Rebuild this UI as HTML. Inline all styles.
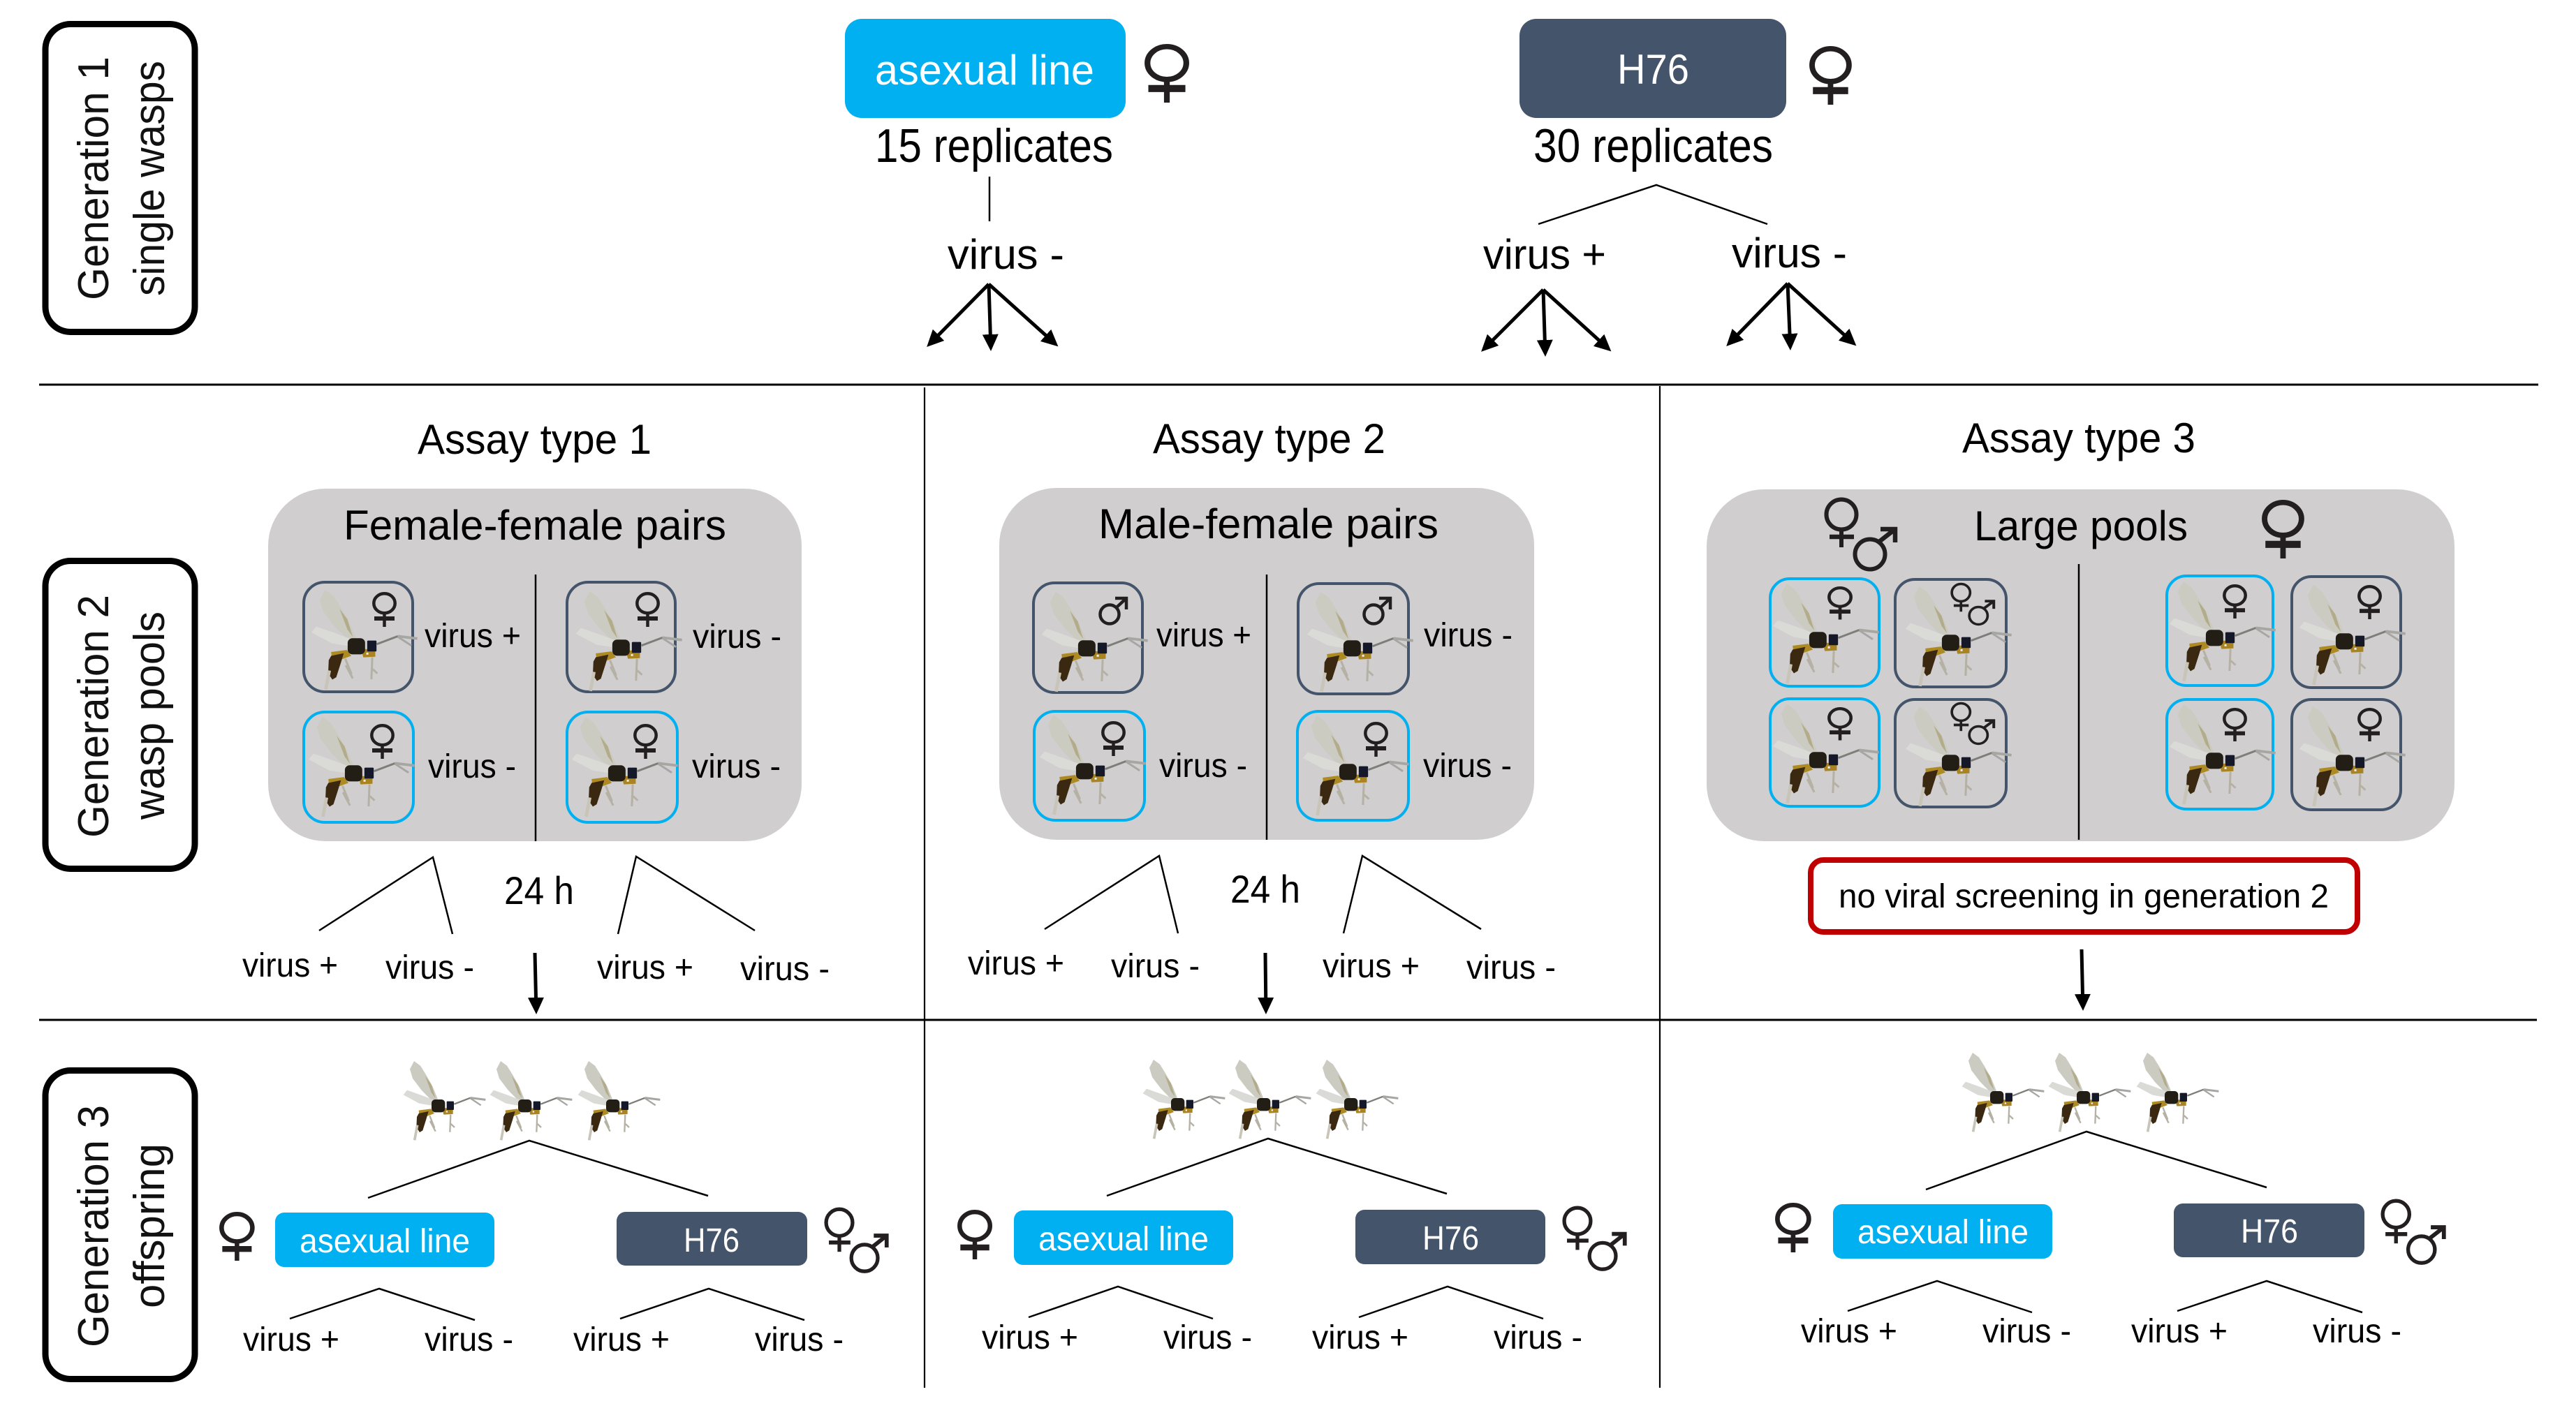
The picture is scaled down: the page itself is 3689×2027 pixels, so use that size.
<!DOCTYPE html>
<html><head><meta charset="utf-8"><style>
html,body{margin:0;padding:0;background:#fff}
svg{display:block}
text{font-family:"Liberation Sans",sans-serif;fill:#000}
.s{font-size:48px}.m{font-size:60px}.b{font-size:68px}.g{font-size:62px;fill:#111}.w{fill:#fff}
.l{stroke:#000;stroke-width:2.5;fill:none}
.a{stroke:#000;stroke-width:5;fill:none;marker-end:url(#ah)}
.cd{fill:none;stroke:#44546A;stroke-width:4}
.cb{fill:none;stroke:#00B0F0;stroke-width:4}
.y{fill:none;stroke:#231f20;stroke-width:4.5}
</style></head><body>
<svg xmlns="http://www.w3.org/2000/svg" width="3689" height="2027" viewBox="0 0 3689 2027">
<defs>
<marker id="ah" markerUnits="userSpaceOnUse" markerWidth="26" markerHeight="26" refX="10" refY="12" orient="auto"><path d="M0,0.5 L24,12 L0,23.5 Z" fill="#000"/></marker>
<g id="f"><ellipse class="y" cx="17.5" cy="16.25" rx="15.2" ry="14"/><path class="y" d="M17.5,30V50"/><path class="y" style="stroke-width:6" d="M3,38H32"/></g>
<g id="m"><circle class="y" cx="16" cy="25" r="13.5"/><path class="y" d="M26,15L40,2M24,2H40V18"/></g>
<g id="mf"><circle class="y" style="stroke-width:6" cx="25" cy="24" r="21.5"/><path class="y" style="stroke-width:6" d="M25,45V71"/><path class="y" style="stroke-width:6.5" d="M8,56H43"/><circle class="y" style="stroke-width:6" cx="66" cy="81" r="21.5"/><path class="y" style="stroke-width:6.5" d="M79,63L102,45M81,45H102V64"/></g>
<g id="wasp"><g transform="translate(-50,-60)">
<path d="M98,60L80,95L92,135L130,185L172,228L200,224L178,170L150,120L125,80Z" fill="#cbcbc2"/>
<path d="M146,125L172,195L190,220L172,160Z" fill="#b3ac8a"/>
<path d="M52,205L68,185L125,205L190,230L178,252L120,242Z" fill="#dadad6"/>
<path d="M118,272L170,265L185,285L150,298L120,290Z" fill="#ad8a22"/>
<path d="M110,300L118,285L160,276L150,310L135,358L122,366L108,345Z" fill="#3b2810"/>
<path d="M218,262L265,262L265,288L225,290Z" fill="#a98420"/>
<rect x="173" y="225" width="58" height="55" rx="16" fill="#221d15"/>
<rect x="238" y="233" width="31" height="37" rx="3" fill="#141828"/>
<rect x="235" y="274" width="7" height="7" fill="#eee"/>
<g fill="none" stroke-linejoin="round">
<path d="M112,335L100,400" stroke="#c8c4b8" stroke-width="11"/>
<path d="M165,295L185,345L168,320L190,362" stroke="#b5b1a5" stroke-width="7"/>
<path d="M255,290L252,365M256,330L272,345" stroke="#b5b1a5" stroke-width="7"/>
<path d="M270,245L340,218" stroke="#7d7d79" stroke-width="7"/>
<path d="M340,218L405,226" stroke="#a6a6a2" stroke-width="9"/>
<path d="M340,220L385,250" stroke="#a6a6a2" stroke-width="7"/>
</g></g></g>
</defs>

<!-- generation boxes -->
<g fill="none" stroke="#000" stroke-width="9">
<rect x="65" y="34.5" width="214" height="441" rx="36"/>
<rect x="65" y="803.5" width="214" height="441" rx="36"/>
<rect x="65" y="1533.5" width="214" height="442" rx="36"/>
</g>
<text class="g" transform="translate(155,430) rotate(-90)" textLength="349" lengthAdjust="spacingAndGlyphs">Generation 1</text>
<text class="g" transform="translate(235,424) rotate(-90)" textLength="337" lengthAdjust="spacingAndGlyphs">single wasps</text>
<text class="g" transform="translate(155,1200) rotate(-90)" textLength="348" lengthAdjust="spacingAndGlyphs">Generation 2</text>
<text class="g" transform="translate(235,1174) rotate(-90)" textLength="298" lengthAdjust="spacingAndGlyphs">wasp pools</text>
<text class="g" transform="translate(155,1930) rotate(-90)" textLength="347" lengthAdjust="spacingAndGlyphs">Generation 3</text>
<text class="g" transform="translate(235,1874) rotate(-90)" textLength="236" lengthAdjust="spacingAndGlyphs">offspring</text>

<!-- grid lines -->
<path d="M56,551H3635" stroke="#000" stroke-width="3"/>
<path d="M56,1461H3633" stroke="#000" stroke-width="3"/>
<path d="M1324,555V1988M2377,553V1988" stroke="#000" stroke-width="2.2"/>

<!-- generation 1 -->
<rect x="1210" y="27" width="402" height="142" rx="24" fill="#00B0F0"/>
<rect x="2176" y="27" width="382" height="142" rx="24" fill="#44546A"/>
<text class="m w" x="1253" y="121" textLength="314" lengthAdjust="spacingAndGlyphs">asexual line</text>
<text class="m w" x="2316" y="120" textLength="103" lengthAdjust="spacingAndGlyphs">H76</text>
<use href="#f" transform="translate(1639,63) scale(1.83,1.68)"/>
<use href="#f" transform="translate(2591,66) scale(1.74,1.68)"/>
<text class="b" x="1253" y="232" textLength="341" lengthAdjust="spacingAndGlyphs">15 replicates</text>
<text class="b" x="2196" y="232" textLength="343" lengthAdjust="spacingAndGlyphs">30 replicates</text>
<path class="l" d="M1417,253V317M2203,321L2372,265L2531,321"/>
<text class="m" x="1357" y="385" textLength="167" lengthAdjust="spacingAndGlyphs">virus -</text>
<text class="m" x="2124" y="385" textLength="176" lengthAdjust="spacingAndGlyphs">virus +</text>
<text class="m" x="2480" y="383" textLength="165" lengthAdjust="spacingAndGlyphs">virus -</text>
<line class="a" x1="1416" y1="407" x2="1337" y2="487"/><line class="a" x1="1416" y1="407" x2="1418.6" y2="489"/><line class="a" x1="1416" y1="407" x2="1505" y2="487"/>
<line class="a" x1="2210" y1="415" x2="2131" y2="494"/><line class="a" x1="2210" y1="415" x2="2212.6" y2="497"/><line class="a" x1="2210" y1="415" x2="2297" y2="494"/>
<line class="a" x1="2560" y1="406" x2="2482" y2="486"/><line class="a" x1="2560" y1="406" x2="2563.4" y2="488"/><line class="a" x1="2560" y1="406" x2="2648" y2="486"/>

<!-- titles -->
<text class="m" x="598" y="650" textLength="335" lengthAdjust="spacingAndGlyphs">Assay type 1</text>
<text class="m" x="1651" y="649" textLength="333" lengthAdjust="spacingAndGlyphs">Assay type 2</text>
<text class="m" x="2810" y="648" textLength="334" lengthAdjust="spacingAndGlyphs">Assay type 3</text>

<!-- panels -->
<rect x="384" y="700" width="764" height="505" rx="82" fill="#D0CECE"/>
<rect x="1431" y="699" width="766" height="504" rx="82" fill="#D0CECE"/>
<rect x="2444" y="701" width="1071" height="504" rx="82" fill="#D0CECE"/>
<text class="m" x="492" y="773" textLength="548" lengthAdjust="spacingAndGlyphs">Female-female pairs</text>
<text class="m" x="1573" y="771" textLength="487" lengthAdjust="spacingAndGlyphs">Male-female pairs</text>
<text class="m" x="2827" y="774" textLength="306" lengthAdjust="spacingAndGlyphs">Large pools</text>
<path d="M767,823V1205M1814,823V1203M2977,808V1203" stroke="#000" stroke-width="2.5"/>
<use href="#mf" transform="translate(2612,713)"/>
<use href="#f" transform="translate(3239,716) scale(1.74,1.68)"/>

<!-- panel 1 cards -->
<rect class="cd" x="435" y="834" width="156" height="157" rx="30"/><use href="#wasp" transform="translate(445,845) scale(.43,.42)"/><use href="#f" transform="translate(533,848)"/>
<rect class="cd" x="812" y="834" width="155" height="157" rx="30"/><use href="#wasp" transform="translate(824,847) scale(.43,.42)"/><use href="#f" transform="translate(910,848)"/>
<rect class="cb" x="435" y="1020" width="157" height="158" rx="30"/><use href="#wasp" transform="translate(441,1027) scale(.43,.42)"/><use href="#f" transform="translate(530,1037)"/>
<rect class="cb" x="812" y="1020" width="158" height="158" rx="30"/><use href="#wasp" transform="translate(818,1027) scale(.43,.42)"/><use href="#f" transform="translate(907,1037)"/>
<text class="s" x="608" y="927" textLength="138" lengthAdjust="spacingAndGlyphs">virus +</text>
<text class="s" x="992" y="928" textLength="127" lengthAdjust="spacingAndGlyphs">virus -</text>
<text class="s" x="613" y="1114" textLength="126" lengthAdjust="spacingAndGlyphs">virus -</text>
<text class="s" x="991" y="1114" textLength="127" lengthAdjust="spacingAndGlyphs">virus -</text>

<!-- panel 2 cards -->
<rect class="cd" x="1480" y="835" width="156" height="157" rx="30"/><use href="#wasp" transform="translate(1491,848) scale(.43,.42)"/><use href="#m" transform="translate(1573,855)"/>
<rect class="cd" x="1859" y="836" width="158" height="158" rx="30"/><use href="#wasp" transform="translate(1871,848) scale(.43,.42)"/><use href="#m" transform="translate(1951,855)"/>
<rect class="cb" x="1481" y="1019" width="158" height="156" rx="30"/><use href="#wasp" transform="translate(1488,1024) scale(.43,.42)"/><use href="#f" transform="translate(1577,1033)"/>
<rect class="cb" x="1858" y="1019" width="159" height="156" rx="30"/><use href="#wasp" transform="translate(1865,1025) scale(.43,.42)"/><use href="#f" transform="translate(1953,1034)"/>
<text class="s" x="1656" y="926" textLength="136" lengthAdjust="spacingAndGlyphs">virus +</text>
<text class="s" x="2039" y="926" textLength="127" lengthAdjust="spacingAndGlyphs">virus -</text>
<text class="s" x="1660" y="1113" textLength="126" lengthAdjust="spacingAndGlyphs">virus -</text>
<text class="s" x="2038" y="1113" textLength="127" lengthAdjust="spacingAndGlyphs">virus -</text>

<!-- panel 3 cards -->
<rect class="cb" x="2535" y="829" width="156" height="154" rx="28"/><use href="#wasp" transform="translate(2538,836) scale(.43,.42)"/><use href="#f" transform="translate(2617,840) scale(1.03,.95)"/>
<rect class="cd" x="2714" y="830" width="159" height="154" rx="28"/><use href="#wasp" transform="translate(2728,840) scale(.43,.42)"/><use href="#mf" transform="translate(2793,835) scale(.61,.58)"/>
<rect class="cb" x="3103" y="825" width="152" height="157" rx="28"/><use href="#wasp" transform="translate(3106,833) scale(.43,.42)"/><use href="#f" transform="translate(3183,837) scale(1,.98)"/>
<rect class="cd" x="3282" y="826" width="156" height="159" rx="28"/><use href="#wasp" transform="translate(3292,838) scale(.43,.42)"/><use href="#f" transform="translate(3376,838) scale(1,.98)"/>
<rect class="cb" x="2535" y="1001" width="156" height="154" rx="28"/><use href="#wasp" transform="translate(2538,1008) scale(.43,.42)"/><use href="#f" transform="translate(2617,1013) scale(1.03,.95)"/>
<rect class="cd" x="2714" y="1002" width="159" height="154" rx="28"/><use href="#wasp" transform="translate(2728,1012) scale(.43,.42)"/><use href="#mf" transform="translate(2793,1006) scale(.61,.58)"/>
<rect class="cb" x="3103" y="1002" width="152" height="157" rx="28"/><use href="#wasp" transform="translate(3106,1009) scale(.43,.42)"/><use href="#f" transform="translate(3183,1014) scale(1,.96)"/>
<rect class="cd" x="3282" y="1002" width="156" height="158" rx="28"/><use href="#wasp" transform="translate(3292,1012) scale(.43,.42)"/><use href="#f" transform="translate(3376,1014) scale(1,.96)"/>

<!-- below panels -->
<path class="l" d="M457,1333L620,1228L648,1338M885,1338L911,1227L1081,1333M1496,1331L1660,1226L1687,1337M1924,1337L1951,1226L2121,1331"/>
<text class="m" x="722" y="1295" style="font-size:56px" textLength="100" lengthAdjust="spacingAndGlyphs">24 h</text>
<text class="m" x="1762" y="1293" style="font-size:56px" textLength="100" lengthAdjust="spacingAndGlyphs">24 h</text>
<text class="s" x="347" y="1399" textLength="137" lengthAdjust="spacingAndGlyphs">virus +</text>
<text class="s" x="552" y="1402" textLength="127" lengthAdjust="spacingAndGlyphs">virus -</text>
<text class="s" x="855" y="1402" textLength="138" lengthAdjust="spacingAndGlyphs">virus +</text>
<text class="s" x="1060" y="1404" textLength="128" lengthAdjust="spacingAndGlyphs">virus -</text>
<text class="s" x="1386" y="1396" textLength="138" lengthAdjust="spacingAndGlyphs">virus +</text>
<text class="s" x="1591" y="1400" textLength="127" lengthAdjust="spacingAndGlyphs">virus -</text>
<text class="s" x="1894" y="1400" textLength="139" lengthAdjust="spacingAndGlyphs">virus +</text>
<text class="s" x="2100" y="1402" textLength="128" lengthAdjust="spacingAndGlyphs">virus -</text>
<line class="a" x1="766" y1="1365" x2="767.7" y2="1439"/>
<line class="a" x1="1812" y1="1365" x2="1812.8" y2="1439"/>
<line class="a" x1="2981" y1="1360" x2="2982.7" y2="1434"/>
<rect x="2593" y="1232" width="783" height="103" rx="18" fill="#fff" stroke="#C00000" stroke-width="8"/>
<text class="s" x="2633" y="1300" textLength="702" lengthAdjust="spacingAndGlyphs">no viral screening in generation 2</text>

<!-- generation 3 -->
<use href="#wasp" transform="translate(577,1520) scale(.3333)"/><use href="#wasp" transform="translate(701,1520) scale(.3333)"/><use href="#wasp" transform="translate(827,1520) scale(.3333)"/>
<use href="#wasp" transform="translate(1636,1518) scale(.3333)"/><use href="#wasp" transform="translate(1759,1518) scale(.3333)"/><use href="#wasp" transform="translate(1884,1518) scale(.3333)"/>
<use href="#wasp" transform="translate(2809,1508) scale(.3333)"/><use href="#wasp" transform="translate(2933,1508) scale(.3333)"/><use href="#wasp" transform="translate(3059,1508) scale(.3333)"/>
<path class="l" d="M527,1716L758,1634L1014,1713M1585,1713L1816,1631L2072,1710M2758,1704L2988,1621L3246,1701"/>

<rect x="394" y="1737" width="314" height="78" rx="13" fill="#00B0F0"/>
<rect x="883" y="1736" width="273" height="77" rx="13" fill="#44546A"/>
<rect x="1452" y="1734" width="314" height="78" rx="13" fill="#00B0F0"/>
<rect x="1941" y="1733" width="272" height="78" rx="13" fill="#44546A"/>
<rect x="2625" y="1725" width="314" height="78" rx="13" fill="#00B0F0"/>
<rect x="3113" y="1724" width="273" height="77" rx="13" fill="#44546A"/>
<text class="s w" x="429" y="1794" textLength="244" lengthAdjust="spacingAndGlyphs">asexual line</text>
<text class="s w" x="979" y="1793" textLength="80" lengthAdjust="spacingAndGlyphs">H76</text>
<text class="s w" x="1487" y="1791" textLength="244" lengthAdjust="spacingAndGlyphs">asexual line</text>
<text class="s w" x="2037" y="1790" textLength="81" lengthAdjust="spacingAndGlyphs">H76</text>
<text class="s w" x="2660" y="1781" textLength="245" lengthAdjust="spacingAndGlyphs">asexual line</text>
<text class="s w" x="3209" y="1780" textLength="82" lengthAdjust="spacingAndGlyphs">H76</text>

<use href="#f" transform="translate(314,1736) scale(1.45,1.4)"/>
<use href="#f" transform="translate(1371,1733) scale(1.43,1.42)"/>
<use href="#f" transform="translate(2542,1723) scale(1.48,1.42)"/>
<use href="#mf" transform="translate(1180,1730) scale(.88,.89)"/>
<use href="#mf" transform="translate(2237,1728) scale(.88,.88)"/>
<use href="#mf" transform="translate(3409,1718) scale(.89,.89)"/>

<path class="l" d="M415,1889L543,1846L680,1891M888,1889L1015,1846L1152,1891M1473,1887L1601,1843L1737,1889M1946,1887L2073,1843L2210,1889M2646,1878L2774,1835L2910,1880M3118,1878L3246,1835L3383,1880"/>
<text class="s" x="348" y="1935" textLength="138" lengthAdjust="spacingAndGlyphs">virus +</text>
<text class="s" x="608" y="1935" textLength="127" lengthAdjust="spacingAndGlyphs">virus -</text>
<text class="s" x="821" y="1935" textLength="138" lengthAdjust="spacingAndGlyphs">virus +</text>
<text class="s" x="1081" y="1935" textLength="127" lengthAdjust="spacingAndGlyphs">virus -</text>
<text class="s" x="1406" y="1932" textLength="138" lengthAdjust="spacingAndGlyphs">virus +</text>
<text class="s" x="1666" y="1932" textLength="127" lengthAdjust="spacingAndGlyphs">virus -</text>
<text class="s" x="1879" y="1932" textLength="138" lengthAdjust="spacingAndGlyphs">virus +</text>
<text class="s" x="2139" y="1932" textLength="127" lengthAdjust="spacingAndGlyphs">virus -</text>
<text class="s" x="2579" y="1923" textLength="138" lengthAdjust="spacingAndGlyphs">virus +</text>
<text class="s" x="2839" y="1923" textLength="127" lengthAdjust="spacingAndGlyphs">virus -</text>
<text class="s" x="3052" y="1923" textLength="138" lengthAdjust="spacingAndGlyphs">virus +</text>
<text class="s" x="3312" y="1923" textLength="127" lengthAdjust="spacingAndGlyphs">virus -</text>
</svg>
</body></html>
